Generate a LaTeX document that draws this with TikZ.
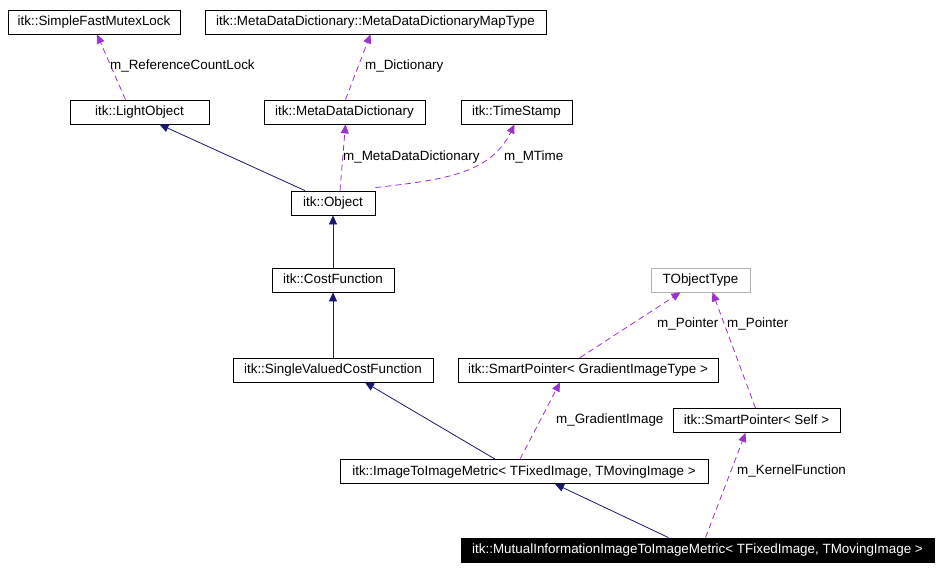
\documentclass[tikz,border=0pt]{standalone}
\usepackage{fontspec}
\setmainfont{Liberation Sans}
\usetikzlibrary{arrows.meta}
\definecolor{navy}{HTML}{191970}
\definecolor{purp}{HTML}{9A32CD}
\tikzset{
  box/.style={draw=black,line width=0.8pt,fill=white,inner sep=0pt,minimum height=24pt,font=\fontsize{13.4}{15}\selectfont,text height=9.5pt,text depth=2.5pt},
  gbox/.style={box,draw=gray!60},
  inh/.style={draw=navy,line width=0.8pt,-{Triangle[length=9pt,width=8pt,fill=navy]}},
  use/.style={draw=purp,line width=0.8pt,dashed,dash pattern=on 6pt off 4pt,-{Triangle[length=9pt,width=8pt,fill=purp]}},
  lab/.style={font=\fontsize{13.4}{15}\selectfont,inner sep=0pt,anchor=west}
}
\begin{document}
\begin{tikzpicture}[x=1pt,y=-1pt]
\useasboundingbox[fill=white] (0,0) rectangle (942,570);
\node[box,minimum width=172pt] (sfm) at (94,22) {itk::SimpleFastMutexLock};
\node[box,minimum width=341pt] (map) at (375.5,22) {itk::MetaDataDictionary::MetaDataDictionaryMapType};
\node[box,minimum width=139pt] (lo) at (139.5,112) {itk::LightObject};
\node[box,minimum width=161pt] (mdd) at (344.5,112) {itk::MetaDataDictionary};
\node[box,minimum width=111pt] (ts) at (516.5,112) {itk::TimeStamp};
\node[box,minimum width=84pt] (obj) at (333,203) {itk::Object};
\node[box,minimum width=122pt] (cf) at (333,280) {itk::CostFunction};
\node[gbox,minimum width=99pt] (tot) at (700.5,280) {TObjectType};
\node[box,minimum width=200pt] (svcf) at (333,370) {itk::SingleValuedCostFunction};
\node[box,minimum width=260pt] (spg) at (588,370) {itk::SmartPointer< GradientImageType >};
\node[box,minimum width=167pt] (sps) at (756.5,420.5) {itk::SmartPointer< Self >};
\node[box,minimum width=368pt] (iim) at (524,471.5) {itk::ImageToImageMetric< TFixedImage, TMovingImage >};
\node[box,minimum width=473pt,fill=black,text=white] (mi) at (697.5,550) {itk::MutualInformationImageToImageMetric< TFixedImage, TMovingImage >};

\draw[use] ([xshift=-14pt]lo.north) -- ([xshift=3pt]sfm.south);
\node[lab] (l1) at (110,66) {m\_ReferenceCountLock};
\draw[use] ([xshift=1pt]mdd.north) -- ([xshift=-5pt]map.south);
\node[lab] (l2) at (365,66) {m\_Dictionary};
\draw[inh] ([xshift=-28pt]obj.north) -- ([xshift=20pt]lo.south);
\draw[use] ([xshift=7pt]obj.north) -- ([xshift=1pt]mdd.south);
\node[lab] (l3) at (343,157) {m\_MetaDataDictionary};
\draw[use] (obj.north east) ++(0,-3) coordinate (o1) (o1) .. controls (440,180) and (490,175) .. ([xshift=-2pt]ts.south);
\node[lab] (l4) at (504,157) {m\_MTime};
\draw[inh] (cf.north) -- (obj.south);
\draw[inh] (svcf.north) -- (cf.south);
\draw[inh] ([xshift=-29pt]iim.north) -- ([xshift=32pt]svcf.south);
\draw[use] ([xshift=-8pt]spg.north) -- ([xshift=-20pt]tot.south);
\node[lab] (l5) at (657,324) {m\_Pointer};
\draw[use] ([xshift=-1pt]sps.north) -- ([xshift=12pt]tot.south);
\node[lab] (l6) at (727,324) {m\_Pointer};
\draw[use] ([xshift=-4pt]iim.north) -- ([xshift=-28pt]spg.south);
\node[lab] (l7) at (556,420) {m\_GradientImage};
\draw[inh] ([xshift=-29pt]mi.north) -- ([xshift=31pt]iim.south);
\draw[use] ([xshift=8pt]mi.north) -- ([xshift=-11pt]sps.south);
\node[lab] (l8) at (737,471) {m\_KernelFunction};
\end{tikzpicture}
\end{document}
